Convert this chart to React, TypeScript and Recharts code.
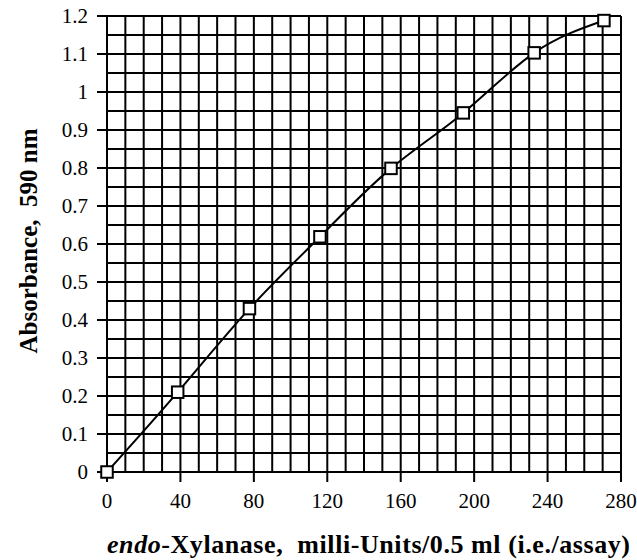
import React from 'react';
import { LineChart, Line, XAxis, YAxis, ReferenceLine } from 'recharts';

const enzymeMU = [0, 38.5, 77.6, 116, 154.7, 194.1, 232.7, 270.7];
const absorbance = [0, 0.21, 0.43, 0.619, 0.799, 0.945, 1.103, 1.188];

// Axis ticks
const xTicks = [0, 40, 80, 120, 160, 200, 240, 280];
const yTicks = [0, 0.1, 0.2, 0.3, 0.4, 0.5, 0.6, 0.7, 0.8, 0.9, 1, 1.1, 1.2];

// Graph-paper grid values
const xGrid = [0, 10, 20, 30, 40, 50, 60, 70, 80, 90, 100, 110, 120, 130, 140, 150, 160, 170, 180, 190, 200, 210, 220, 230, 240, 250, 260, 270, 280];
const yGrid = [0, 0.05, 0.1, 0.15, 0.2, 0.25, 0.3, 0.35, 0.4, 0.45, 0.5, 0.55, 0.6, 0.65, 0.7, 0.75, 0.8, 0.85, 0.9, 0.95, 1, 1.05, 1.1, 1.15, 1.2];

const data = enzymeMU.map((x, i) => ({ x, y: absorbance[i] }));

const FONT = '"Liberation Serif", "Times New Roman", serif';
const W = 637;
const H = 560;

const SquareDot = (props: any) => {
  const { cx, cy, index } = props;
  if (cx == null || cy == null) return null;
  const s = 11.5;
  return (
    <rect
      key={`sq-${index}`}
      x={cx - s / 2}
      y={cy - s / 2}
      width={s}
      height={s}
      fill="#ffffff"
      stroke="#000000"
      strokeWidth={2}
    />
  );
};

export default function App() {
  return (
    <div style={{ position: 'absolute', left: 0, top: 0, width: W, height: H, background: '#fff' }}>
      <LineChart
        width={W}
        height={H}
        data={data}
        margin={{ top: 16, right: 16, bottom: 0, left: 0 }}
      >
        <XAxis
          dataKey="x"
          type="number"
          domain={[0, 280]}
          ticks={xTicks}
          interval={0}
          height={88}
          axisLine={false}
          tickLine={{ stroke: '#000', strokeWidth: 2 }}
          tickSize={10}
          tickMargin={11}
          tick={{ fill: '#000', fontSize: 21, fontFamily: FONT }}
        />
        <YAxis
          type="number"
          domain={[0, 1.2]}
          ticks={yTicks}
          interval={0}
          width={107}
          axisLine={false}
          tickLine={{ stroke: '#000', strokeWidth: 2 }}
          tickSize={10}
          tickMargin={9}
          tick={{ fill: '#000', fontSize: 21, fontFamily: FONT }}
        />
        {xGrid.map((v) => (
          <ReferenceLine key={`gx-${v}`} x={v} stroke="#000" strokeWidth={2} />
        ))}
        {yGrid.map((v) => (
          <ReferenceLine key={`gy-${v}`} y={v} stroke="#000" strokeWidth={2} />
        ))}
        <Line
          dataKey="y"
          type="natural"
          stroke="#000"
          strokeWidth={2}
          dot={SquareDot}
          activeDot={false}
          isAnimationActive={false}
        />
      </LineChart>
      <svg
        width={W}
        height={H}
        style={{ position: 'absolute', left: 0, top: 0, pointerEvents: 'none' }}
      >
        <text
          x={0}
          y={0}
          transform="translate(37, 241) rotate(-90)"
          textAnchor="middle"
          fontFamily={FONT}
          fontWeight="bold"
          fontSize={25}
          fill="#000"
          style={{ whiteSpace: 'pre' }}
        >
          {'Absorbance,  590 nm'}
        </text>
        <text
          x={107}
          y={553}
          textAnchor="start"
          textLength={523}
          lengthAdjust="spacing"
          fontFamily={FONT}
          fontWeight="bold"
          fontSize={26}
          fill="#000"
          style={{ whiteSpace: 'pre' }}
        >
          <tspan fontStyle="italic">endo</tspan>
          <tspan>{'-Xylanase,  milli-Units/0.5 ml (i.e./assay)'}</tspan>
        </text>
      </svg>
    </div>
  );
}
